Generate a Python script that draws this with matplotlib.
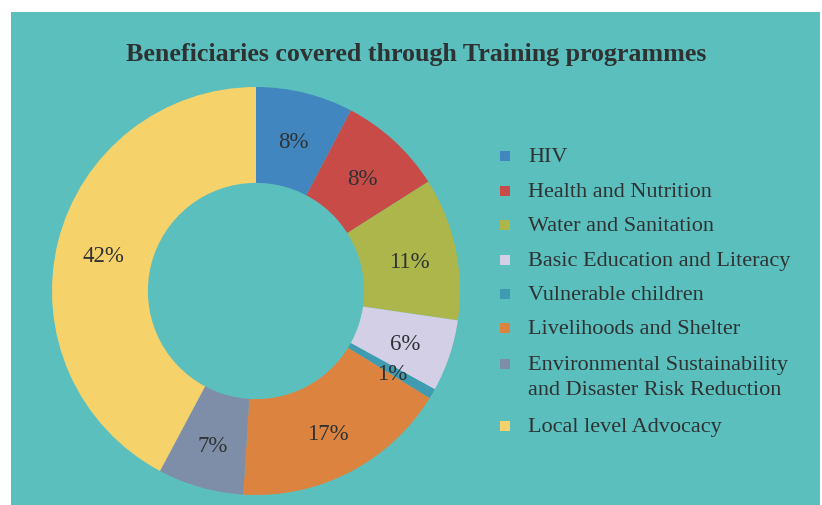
import matplotlib
matplotlib.use('Agg')
import matplotlib.pyplot as plt
import matplotlib.transforms as mtransforms
from matplotlib.patches import Rectangle

# dados (percentuais)
categorias = ['HIV', 'Health and Nutrition', 'Water and Sanitation',
              'Basic Education and Literacy', 'Vulnerable children',
              'Livelihoods and Shelter',
              'Environmental Sustainability\nand Disaster Risk Reduction',
              'Local level Advocacy']
valores = [7.7, 8.3, 11.3, 5.7, 0.8, 17.2, 6.8, 42.2]
cores = ['#4286bf', '#c84b48', '#acb64b', '#d3cfe6', '#3f9bb1',
         '#dc843f', '#7f8ea8', '#f6d26a']
titulo = 'Beneficiaries covered through Training programmes'

fundo = '#5bbfbe'
texto = '#2e3233'
W, H = 822, 505

fig = plt.figure(figsize=(W / 100, H / 100), dpi=100, facecolor='white')
fig.patches.append(Rectangle((11 / W, 0), 809 / W, 493 / H, transform=fig.transFigure,
                             facecolor=fundo, edgecolor='none', zorder=-5))

cx, cy, r = 256, 291, 204
ax = fig.add_axes([(cx - r) / W, (H - cy - r) / H, 2 * r / W, 2 * r / H])
ax.set_zorder(2)
ax.set_facecolor('none')
wedges, txts, pcts = ax.pie(valores, colors=cores, startangle=90, counterclock=False,
                            radius=1.0, autopct='%.0f%%', pctdistance=0.77,
                            wedgeprops=dict(width=0.47, edgecolor='none'),
                            textprops=dict(color=texto, fontsize=16.5, family='Liberation Serif'))
# rotulos um pouco mais baixos, como no original
desloca = mtransforms.ScaledTranslation(0, -4 / 100, fig.dpi_scale_trans)
for t in pcts:
    t.set_transform(t.get_transform() + desloca)
ax.set_xlim(-1, 1)
ax.set_ylim(-1, 1)
ax.axis('off')

fig.text(416 / W, 1 - 61 / H, titulo, ha='center', va='baseline', fontsize=18.7,
         fontweight='bold', color=texto, family='Liberation Serif', zorder=3)

# legenda manual
baselines = [162, 197, 231, 266, 300, 334, 370, 432]
for cat, cor, b in zip(categorias, cores, baselines):
    fig.patches.append(Rectangle((500 / W, 1 - (b - 1) / H), 10 / W, 10 / H,
                                 transform=fig.transFigure, facecolor=cor,
                                 edgecolor='none', zorder=3))
    linhas = cat.split('\n')
    for i, linha in enumerate(linhas):
        fig.text(528 / W, 1 - (b + 25 * i) / H, linha, ha='left', va='baseline',
                 fontsize=16, color=texto, family='Liberation Serif', zorder=3)

fig.savefig('out.png', dpi=100, facecolor='white')
